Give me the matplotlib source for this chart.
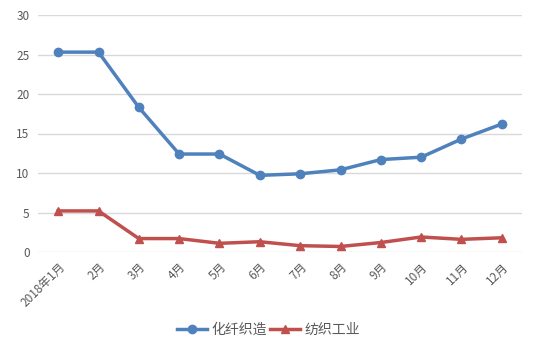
import matplotlib
matplotlib.use("Agg")
import matplotlib.pyplot as plt

plt.rcParams['font.family'] = ['Noto Sans CJK SC', 'DejaVu Sans']

months = ['2018年1月', '2月', '3月', '4月', '5月', '6月', '7月', '8月', '9月', '10月', '11月', '12月']
fiber = [25.3, 25.3, 18.3, 12.4, 12.4, 9.7, 9.9, 10.4, 11.7, 12.0, 14.3, 16.2]
textile = [5.2, 5.2, 1.7, 1.7, 1.1, 1.3, 0.8, 0.7, 1.2, 1.9, 1.6, 1.8]
y_ticks = [0, 5, 10, 15, 20, 25, 30]

fig = plt.figure(figsize=(5.37, 3.5), dpi=100)
ax = fig.add_axes([38/537, 1 - 252/350, (522 - 38)/537, (252 - 15)/350])

x = list(range(len(months)))
ax.plot(x, fiber, color='#4F81BD', lw=2.5, marker='o', ms=6, label='化纤织造')
ax.plot(x, textile, color='#C0504D', lw=2.5, marker='^', ms=6, label='纺织工业')

ax.set_xlim(-0.5, len(months) - 0.5)
ax.set_ylim(0, 30)
ax.set_yticks(y_ticks)
ax.set_xticks(x)
ax.set_xticklabels(months, rotation=45, ha='right', rotation_mode='anchor')
ax.grid(axis='y', color='#D9D9D9', lw=1)
ax.set_axisbelow(True)
for s in ax.spines.values():
    s.set_visible(False)
ax.tick_params(length=0, colors='#595959', labelsize=8.5)
ax.tick_params(axis='y', pad=6)
ax.tick_params(axis='x', pad=6)

fig.legend(loc='center', bbox_to_anchor=(0.5, 1 - 330/350), ncol=2, frameon=False,
           fontsize=10, labelcolor='#595959', handlelength=2.2, columnspacing=0.2,
           handletextpad=0.3)

fig.savefig('out.png', dpi=100)
